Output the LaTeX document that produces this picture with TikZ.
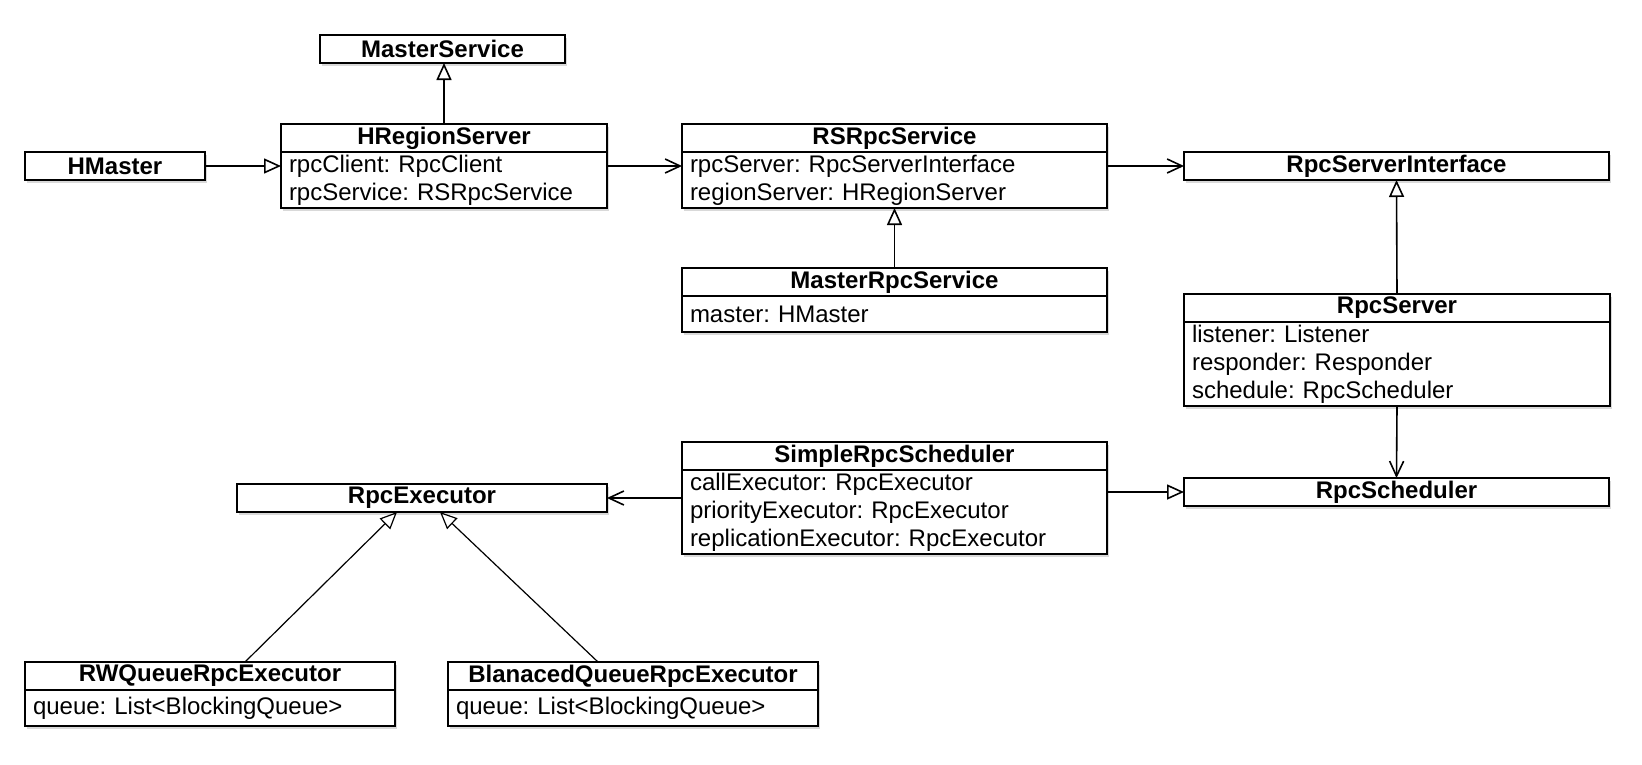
\documentclass[tikz,border=0pt]{standalone}
\usepackage{fontspec}
\setmainfont{Liberation Sans}
\frenchspacing
\usetikzlibrary{positioning,arrows.meta,shadows}

\begin{document}
\begin{tikzpicture}[
      x=1pt, y=1pt,
      font=\fontsize{24}{28}\selectfont,
      box/.style={draw=black, line width=2pt, fill=white, outer sep=0pt,
                  drop shadow={shadow xshift=1.5pt, shadow yshift=-3pt, opacity=0.3}},
      head/.style={box, minimum width=#1, minimum height=28pt, inner sep=0pt,
                   font=\fontsize{24}{28}\selectfont\bfseries},
      body/.style={box, text width=#1, inner xsep=8pt, inner ysep=0pt,
                   minimum height=36pt, align=left},
      assoc/.style={-{Straight Barb[length=15pt, width=14pt]}, line width=1.6pt},
      inherit/.style={-{Triangle[open, length=17pt, width=15pt, fill=white]}, line width=1.6pt}
    ]
    \useasboundingbox (0,0) rectangle (1642,-764);

    % top part
    \node[head=245pt, anchor=north west] (mservice) at (320,-35) {MasterService};
    \node[head=180pt, anchor=north west] (hmaster) at (25,-152) {HMaster};
    \node[head=326pt, anchor=north west] (hrs) at (281,-124) {HRegionServer};
    \node[body=310pt, minimum height=56pt, below=0pt of hrs] (hrs-b) {rpcClient: RpcClient\\ rpcService: RSRpcService};
    \node[head=425pt, anchor=north west] (rss) at (682,-124) {RSRpcService};
    \node[body=409pt, minimum height=56pt, below=0pt of rss] (rss-b) {rpcServer: RpcServerInterface\\ regionServer: HRegionServer};
    \node[head=425pt, anchor=north west] (rsi) at (1184,-152) {RpcServerInterface};
    \node[head=425pt, anchor=north west] (mrs) at (682,-268) {MasterRpcService};
    \node[body=409pt, below=0pt of mrs] (mrs-b) {master: HMaster};
    \node[head=426pt, anchor=north west] (rserver) at (1184,-294) {RpcServer};
    \node[body=410pt, minimum height=84pt, below=0pt of rserver] (rserver-b) {listener: Listener\\ responder: Responder\\ schedule: RpcScheduler};

    % scheduler and executors
    \node[head=425pt, anchor=north west] (srs) at (682,-442) {SimpleRpcScheduler};
    \node[body=409pt, minimum height=84pt, below=0pt of srs] (srs-b) {callExecutor: RpcExecutor\\ priorityExecutor: RpcExecutor\\ replicationExecutor: RpcExecutor};
    \node[head=425pt, anchor=north west] (rsched) at (1184,-478) {RpcScheduler};
    \node[head=370pt, anchor=north west] (rexec) at (237,-484) {RpcExecutor};
    \node[head=370pt, anchor=north west] (rwq) at (25,-662) {RWQueueRpcExecutor};
    \node[body=354pt, below=0pt of rwq] (rwq-b) {queue: List<BlockingQueue>};
    \node[head=370pt, anchor=north west] (bq) at (448,-662) {BlanacedQueueRpcExecutor};
    \node[body=354pt, below=0pt of bq] (bq-b) {queue: List<BlockingQueue>};

    \draw[inherit] (hrs.north) -- (hrs.north |- mservice.south);
    \draw[inherit] (hmaster.east) -- (hmaster.east -| hrs-b.west);
    \draw[assoc] (hmaster.east -| hrs-b.east) -- (hmaster.east -| rss-b.west);
    \draw[assoc] (rsi.west -| rss-b.east) -- (rsi.west);
    \draw[inherit] (mrs.north) -- (rss-b.south);
    \draw[inherit] (rserver.north) -- (rsi.south);
    \draw[assoc] (rserver-b.south) -- (rsched.north);
    \draw[assoc] (rexec.east -| srs-b.west) -- (rexec.east);
    \draw[inherit] (rsched.west -| srs-b.east) -- (rsched.west);
    \draw[inherit, line width=1.2pt] ([xshift=35pt]rwq.north) -- ([xshift=-25pt]rexec.south);
    \draw[inherit, line width=1.2pt] ([xshift=-35pt]bq.north) -- ([xshift=18pt]rexec.south);
  \end{tikzpicture}
\end{document}
